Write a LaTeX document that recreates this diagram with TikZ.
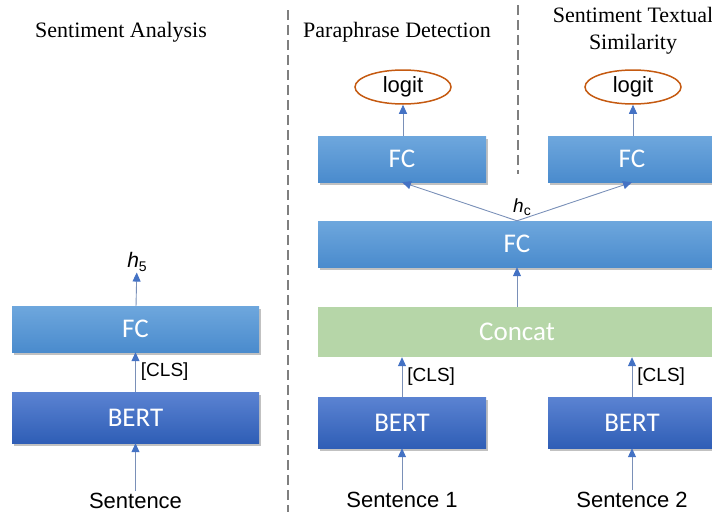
\documentclass[tikz,border=0pt]{standalone}
\usepackage{fontspec}
\setmainfont{Liberation Serif}
\setsansfont{Liberation Sans}
\newfontfamily\boxfont{Carlito}
\usetikzlibrary{arrows.meta,shapes.geometric,shadows}

\definecolor{fctop}{HTML}{6EA7DD}
\definecolor{fcbot}{HTML}{4A8BCD}
\definecolor{berttop}{HTML}{5B83D2}
\definecolor{bertbot}{HTML}{2F5EB6}
\definecolor{concatgreen}{HTML}{B6D6A8}
\definecolor{logitorange}{HTML}{C55A11}
\definecolor{arrowblue}{HTML}{4472C4}
\definecolor{arrowline}{HTML}{7A90B8}
\definecolor{dashgray}{HTML}{7F7F7F}

\newcommand{\hvec}[1]{{\itshape h}\raisebox{-0.3ex}{\fontsize{14}{16}\selectfont #1}}

\tikzset{
    boxshadow/.style={drop shadow={shadow xshift=1.5pt,shadow yshift=-2.5pt,opacity=0.35,fill=black!70}},
    fcbox/.style={boxshadow,top color=fctop,bottom color=fcbot,minimum height=46pt,inner sep=0pt,
        text=white,font=\boxfont\fontsize{27}{30}\selectfont},
    bertbox/.style={boxshadow,top color=berttop,bottom color=bertbot,minimum height=51pt,inner sep=0pt,
        text=white,font=\boxfont\fontsize{27}{30}\selectfont},
    concatbox/.style={fill=concatgreen,minimum height=50pt,inner sep=0pt,
        text=white,font=\boxfont\fontsize{27}{30}\selectfont},
    logitnode/.style={ellipse,draw=logitorange,line width=1.5pt,minimum width=96pt,minimum height=34pt,
        inner sep=0pt,font=\sffamily\fontsize{22}{24}\selectfont},
    sentnode/.style={inner sep=2pt,font=\sffamily\fontsize{22}{24}\selectfont},
    clslabel/.style={right,inner sep=5pt,font=\sffamily\fontsize{19}{20}\selectfont},
    hlabel/.style={inner sep=1pt,font=\sffamily\fontsize{21}{24}\selectfont},
    titlenode/.style={font=\fontsize{22}{27}\selectfont,align=center},
    flow/.style={draw=arrowline,line width=0.9pt,-{Triangle[length=9pt,width=8pt,color=arrowblue]}},
    divider/.style={dashgray,line width=2.5pt,dash pattern=on 10pt off 5pt}
}

\begin{document}
\begin{tikzpicture}[x=1pt,y=-1pt]
    \useasboundingbox (0,0) rectangle (712,514);
    \clip (0,0) rectangle (712,514);

    % titles
    \node[titlenode] (tsa) at (121,32) {Sentiment Analysis};
    \node[titlenode] (tpd) at (397,32) {Paraphrase Detection};
    \node[titlenode] (tsts) at (633,31) {Sentiment Textual\\Similarity};

    \draw[divider] (288,10) -- (288,512);
    \draw[divider] (518,5) -- (518,174);

    % sentiment analysis
    \node[fcbox,minimum width=247pt] (safc) at (135.5,329) {FC};
    \node[bertbox,minimum width=247pt] (sabert) at (135.5,417.5) {BERT};
    \node[hlabel] (hfive) at (137,262) {\hvec{5}};
    \node[sentnode] (sasent) at (135.5,501) {Sentence};
    \draw[flow] (sasent) -- (sabert);
    \draw[flow] (sabert) -- node[clslabel] {[CLS]} (safc);
    \draw[flow] (safc) -- (hfive);

    % paraphrase detection / similarity
    \node[concatbox,minimum width=398pt] (concat) at (517,332) {Concat};
    \node[fcbox,minimum width=398pt] (fcall) at (517,244) {FC};
    \draw[flow] (concat) -- (fcall);
    \node[hlabel,anchor=south,font=\sffamily\fontsize{19}{20}\selectfont] (hc) at ([xshift=5pt,yshift=4pt]fcall.north) {\hvec{c}};

    \foreach \x/\n in {402/1,632/2} {
        \node[bertbox,minimum width=168pt] (bert\n) at (\x,422.5) {BERT};
        \node[sentnode] (sent\n) at (\x,500) {Sentence \n};
        \draw[flow] (sent\n) -- (bert\n);
        \draw[flow] (bert\n.north) -- node[clslabel] {[CLS]} (bert\n.north |- concat.south);
        \node[fcbox,minimum width=168pt] (fc\n) at (\x,159) {FC};
        \node[logitnode] (logit\n) at (\x+1,87) {logit};
        \draw[flow] (fc\n.north -| logit\n) -- (logit\n);
        \draw[flow] (fcall.north) -- (fc\n.south);
    }
\end{tikzpicture}
\end{document}
